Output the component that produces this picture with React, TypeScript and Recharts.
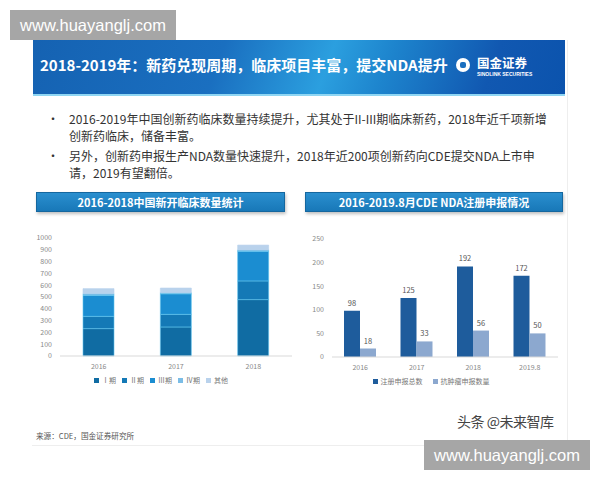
import { BarChart, Bar, XAxis, YAxis, Legend, LabelList } from 'recharts';

// 2016-2018 new clinical trials, stacked by phase
const clinicalYears = ['2016', '2017', '2018'];
const phase1 = [232, 246, 478];
const phase2 = [104, 107, 158];
const phase3 = [178, 174, 251];
const phase4 = [15, 10, 12];
const phaseOther = [42, 39, 41];
const clinicalTicks = [0, 100, 200, 300, 400, 500, 600, 700, 800, 900, 1000];
const phaseNames = ['Ⅰ期', 'Ⅱ期', 'Ⅲ期', 'Ⅳ期', '其他'];

// 2016-2019.8 CDE NDA filings
const ndaYears = ['2016', '2017', '2018', '2019.8'];
const ndaTotal = [98, 125, 192, 172];
const ndaOncology = [18, 33, 56, 50];
const ndaTicks = [0, 50, 100, 150, 200, 250];
const ndaNames = ['注册申报总数', '抗肿瘤申报数量'];

const clinicalData = clinicalYears.map((year, i) => ({
  year,
  p1: phase1[i],
  p2: phase2[i],
  p3: phase3[i],
  p4: phase4[i],
  other: phaseOther[i],
}));

const ndaData = ndaYears.map((year, i) => ({
  year,
  total: ndaTotal[i],
  onco: ndaOncology[i],
}));

const CJK = '"Noto Sans CJK SC", "Noto Sans", sans-serif';

function SectionHeader({ left, width, text }: { left: number; width: number; text: string }) {
  return (
    <div
      style={{
        position: 'absolute',
        left,
        top: 192,
        width,
        height: 20,
        background: 'linear-gradient(180deg, #2a8fcf 0%, #1878b8 100%)',
        border: '1px solid #15679f',
        boxShadow: '1px 2px 3px rgba(0,0,0,0.25)',
        color: '#fff',
        fontWeight: 700,
        fontSize: 11,
        lineHeight: '18px',
        textAlign: 'center',
        boxSizing: 'border-box',
      }}
    >
      {text}
    </div>
  );
}

// tight legend like the slide's, keeps the series order given
function CompactLegend(props: any) {
  const { payload, order, gap } = props;
  const items = [...(payload || [])].sort(
    (a: any, b: any) => order.indexOf(a.value) - order.indexOf(b.value)
  );
  return (
    <div
      style={{
        display: 'flex',
        justifyContent: 'center',
        gap,
        fontSize: 7,
        lineHeight: '10px',
        color: '#777',
        fontFamily: CJK,
      }}
    >
      {items.map((item: any) => (
        <span key={item.value} style={{ display: 'flex', alignItems: 'center', whiteSpace: 'nowrap' }}>
          <span
            style={{ width: 5, height: 5, background: item.color, marginRight: 3, display: 'inline-block' }}
          />
          {item.value}
        </span>
      ))}
    </div>
  );
}

const tickStyle = { fontSize: 7, fill: '#888' };

export default function App() {
  return (
    <div
      style={{
        position: 'absolute',
        left: 0,
        top: 0,
        width: 600,
        height: 480,
        background: '#fff',
        overflow: 'hidden',
        fontFamily: CJK,
      }}
    >
      {/* slide body frame */}
      <div
        style={{
          position: 'absolute',
          left: 32,
          top: 40,
          width: 535,
          height: 405,
          background: '#fff',
          borderRight: '1px solid #eee',
          borderBottom: '1px solid #eee',
        }}
      />

      {/* title banner */}
      <div
        style={{
          position: 'absolute',
          left: 33,
          top: 40,
          width: 532,
          height: 54,
          background:
            'linear-gradient(110deg, #1562b2 0%, #1a6fc0 35%, #2b9fdf 55%, #1d84cd 66%, #1158b1 85%, #0b53ad 100%)',
          borderBottom: '2px solid #8fd6f3',
        }}
      >
        <div
          style={{
            position: 'absolute',
            left: 7,
            top: 15,
            color: '#fff',
            fontWeight: 700,
            fontSize: 15,
            whiteSpace: 'nowrap',
            lineHeight: '20px',
          }}
        >
          2018-2019年：新药兑现周期，临床项目丰富，提交NDA提升
        </div>
        <div
          style={{
            position: 'absolute',
            left: 423,
            top: 18,
            width: 14,
            height: 14,
            borderRadius: 7,
            background: '#fff',
          }}
        >
          <div
            style={{
              position: 'absolute',
              left: 4,
              top: 4,
              width: 6,
              height: 6,
              borderRadius: 2,
              background: '#1a6fc0',
            }}
          />
        </div>
        <div
          style={{
            position: 'absolute',
            left: 444,
            top: 15,
            color: '#fff',
            fontWeight: 700,
            fontSize: 12.5,
            lineHeight: '16px',
            whiteSpace: 'nowrap',
          }}
        >
          国金证券
        </div>
        <div
          style={{
            position: 'absolute',
            left: 444,
            top: 31,
            color: '#fff',
            fontSize: 5,
            fontWeight: 700,
            lineHeight: '6px',
            whiteSpace: 'nowrap',
            fontFamily: '"Liberation Sans", sans-serif',
          }}
        >
          SINOLINK SECURITIES
        </div>
      </div>

      {/* bullets */}
      <div
        style={{
          position: 'absolute',
          left: 47,
          top: 111,
          width: 520,
          fontSize: 12,
          lineHeight: '16.5px',
          color: '#333',
          whiteSpace: 'nowrap',
        }}
      >
        <div style={{ display: 'flex' }}>
          <span style={{ width: 22, flexShrink: 0 }}>•</span>
          <span>
            2016-2019年中国创新药临床数量持续提升，尤其处于II-III期临床新药，2018年近千项新增
            <br />
            创新药临床，储备丰富。
          </span>
        </div>
        <div style={{ display: 'flex', marginTop: 4 }}>
          <span style={{ width: 22, flexShrink: 0 }}>•</span>
          <span>
            另外，创新药申报生产NDA数量快速提升，2018年近200项创新药向CDE提交NDA上市申
            <br />
            请，2019有望翻倍。
          </span>
        </div>
      </div>

      <SectionHeader left={36} width={249} text="2016-2018中国新开临床数量统计" />
      <SectionHeader left={305} width={258} text="2016-2019.8月CDE NDA注册申报情况" />

      {/* left: stacked clinical trials */}
      <div style={{ position: 'absolute', left: 30, top: 220 }}>
        <BarChart
          width={270}
          height={175}
          data={clinicalData}
          margin={{ top: 18, right: 8, left: 0, bottom: 10 }}
          barSize={31}
        >
          <XAxis
            dataKey="year"
            height={19}
            tickLine={false}
            axisLine={{ stroke: '#d9d9d9' }}
            tick={tickStyle}
          />
          <YAxis
            width={30}
            domain={[0, 1000]}
            ticks={clinicalTicks}
            interval={0}
            tickLine={false}
            axisLine={false}
            tick={tickStyle}
          />
          <Legend content={(p: any) => <CompactLegend {...p} order={phaseNames} gap={6} />} />
          <Bar dataKey="p1" name={phaseNames[0]} stackId="a" fill="#106ca3" stroke="#5fc4ee" strokeWidth={0.6} isAnimationActive={false} />
          <Bar dataKey="p2" name={phaseNames[1]} stackId="a" fill="#1479b6" stroke="#5fc4ee" strokeWidth={0.6} isAnimationActive={false} />
          <Bar dataKey="p3" name={phaseNames[2]} stackId="a" fill="#1b8dd1" stroke="#5fc4ee" strokeWidth={0.6} isAnimationActive={false} />
          <Bar dataKey="p4" name={phaseNames[3]} stackId="a" fill="#7bbde6" stroke="#5fc4ee" strokeWidth={0.6} isAnimationActive={false} />
          <Bar dataKey="other" name={phaseNames[4]} stackId="a" fill="#b9d2ec" stroke="#b9d2ec" strokeWidth={0.6} isAnimationActive={false} />
        </BarChart>
      </div>

      {/* right: NDA filings */}
      <div style={{ position: 'absolute', left: 300, top: 220 }}>
        <BarChart
          width={270}
          height={175}
          data={ndaData}
          margin={{ top: 19, right: 12, left: 4, bottom: 9 }}
          barSize={16}
          barGap={0}
        >
          <XAxis
            dataKey="year"
            height={19}
            tickLine={false}
            axisLine={{ stroke: '#d9d9d9' }}
            tick={tickStyle}
          />
          <YAxis
            width={28}
            domain={[0, 250]}
            ticks={ndaTicks}
            interval={0}
            tickLine={false}
            axisLine={false}
            tick={tickStyle}
          />
          <Legend content={(p: any) => <CompactLegend {...p} order={ndaNames} gap={10} />} />
          <Bar dataKey="total" name={ndaNames[0]} fill="#1e5c9c" isAnimationActive={false}>
            <LabelList dataKey="total" position="top" offset={5} style={{ fontSize: 7.5, fill: '#555' }} />
          </Bar>
          <Bar dataKey="onco" name={ndaNames[1]} fill="#8ca8cf" isAnimationActive={false}>
            <LabelList dataKey="onco" position="top" offset={5} style={{ fontSize: 7.5, fill: '#555' }} />
          </Bar>
        </BarChart>
      </div>

      {/* footer */}
      <div style={{ position: 'absolute', left: 36, top: 430, fontSize: 7.6, color: '#555', whiteSpace: 'nowrap' }}>
        来源：CDE，国金证券研究所
      </div>
      <div
        style={{
          position: 'absolute',
          left: 457,
          top: 411,
          fontSize: 14,
          color: '#444',
          whiteSpace: 'nowrap',
          letterSpacing: -0.5,
        }}
      >
        头条 @未来智库
      </div>

      {/* site watermarks */}
      <div
        style={{
          position: 'absolute',
          left: 10,
          top: 10,
          width: 166,
          height: 30,
          background: '#a6a6a6',
          color: '#fff',
          fontSize: 16.5,
          lineHeight: '30px',
          textAlign: 'center',
          fontFamily: '"Liberation Sans", Arial, sans-serif',
        }}
      >
        www.huayanglj.com
      </div>
      <div
        style={{
          position: 'absolute',
          left: 424,
          top: 440,
          width: 166,
          height: 30,
          background: '#a6a6a6',
          color: '#fff',
          fontSize: 16.5,
          lineHeight: '30px',
          textAlign: 'center',
          fontFamily: '"Liberation Sans", Arial, sans-serif',
        }}
      >
        www.huayanglj.com
      </div>
    </div>
  );
}
